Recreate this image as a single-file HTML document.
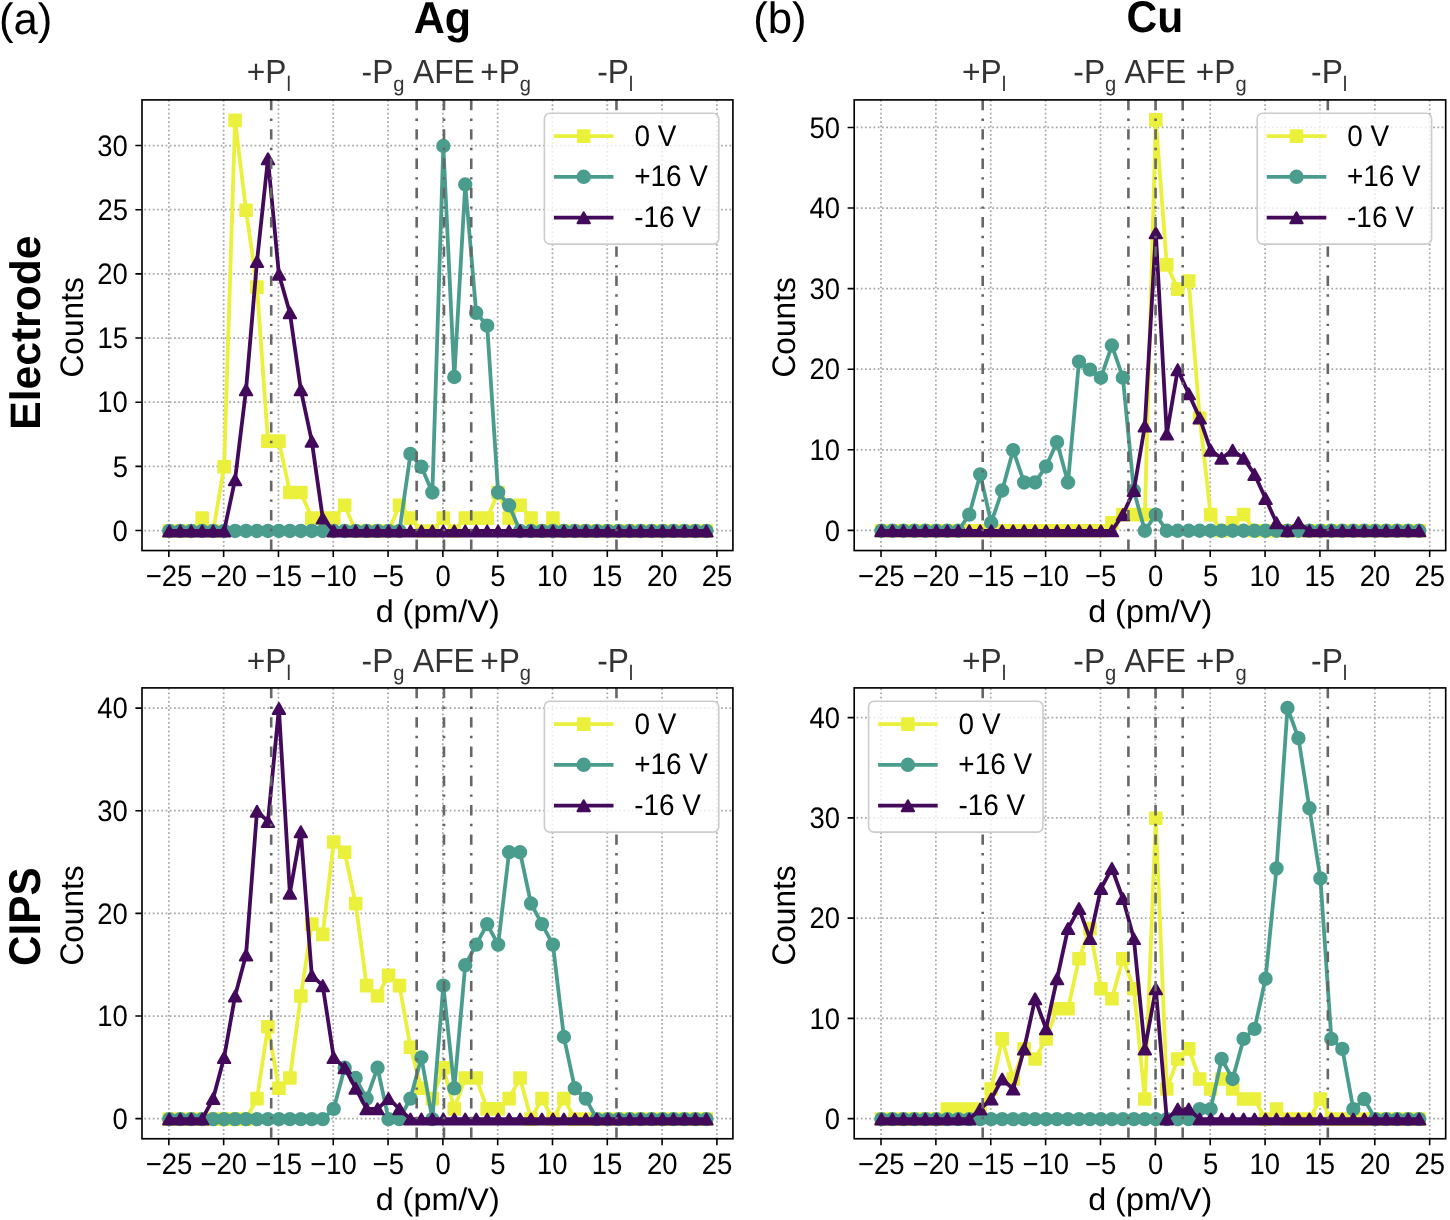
<!DOCTYPE html>
<html><head><meta charset="utf-8"><title>Histogram</title>
<style>html,body{margin:0;padding:0;background:#fff;}body{width:1450px;height:1220px;overflow:hidden;}svg{display:block;will-change:transform;}</style>
</head><body>
<svg width="1450" height="1220" viewBox="0 0 1450 1220" font-family='"Liberation Sans", sans-serif' text-rendering="geometricPrecision">
<rect width="1450" height="1220" fill="#fff"/>
<clipPath id="clipTL"><rect x="142" y="99.9" width="590.9" height="450.65"/></clipPath>
<g stroke="#a8a8a8" stroke-width="1.75" stroke-dasharray="1.75 2.49" fill="none"><path d="M168.85 550.55V99.9M223.66 550.55V99.9M278.46 550.55V99.9M333.26 550.55V99.9M388.07 550.55V99.9M442.88 550.55V99.9M497.68 550.55V99.9M552.49 550.55V99.9M607.29 550.55V99.9M662.1 550.55V99.9M716.9 550.55V99.9" stroke-dashoffset="0.6"/><path d="M142 530.5H732.9M142 466.35H732.9M142 402.19H732.9M142 338.03H732.9M142 273.88H732.9M142 209.73H732.9M142 145.57H732.9" stroke-dashoffset="1.9"/></g>
<g clip-path="url(#clipTL)">
<path d="M169.3 530.95L180.26 530.95L191.22 530.95L202.18 518.12L213.14 530.95L224.1 466.8L235.07 120.36L246.03 210.18L256.99 287.16L267.95 441.13L278.91 441.13L289.87 492.46L300.83 492.46L311.79 518.12L322.75 518.12L333.71 518.12L344.68 505.29L355.64 530.95L366.6 530.95L377.56 530.95L388.52 530.95L399.48 505.29L410.44 518.12L421.4 530.95L432.36 530.95L443.32 518.12L454.29 530.95L465.25 518.12L476.21 518.12L487.17 518.12L498.13 492.46L509.09 518.12L520.05 505.29L531.01 518.12L541.97 530.95L552.94 518.12L563.9 530.95L574.86 530.95L585.82 530.95L596.78 530.95L607.74 530.95L618.7 530.95L629.66 530.95L640.62 530.95L651.58 530.95L662.55 530.95L673.51 530.95L684.47 530.95L695.43 530.95L706.39 530.95" stroke="#ebf03c" stroke-width="3.8" fill="none" stroke-linejoin="round" stroke-linecap="square"/>
<path d="M163.5 525.15h11.6v11.6h-11.6zM174.46 525.15h11.6v11.6h-11.6zM185.42 525.15h11.6v11.6h-11.6zM196.38 512.32h11.6v11.6h-11.6zM207.34 525.15h11.6v11.6h-11.6zM218.3 461h11.6v11.6h-11.6zM229.27 114.56h11.6v11.6h-11.6zM240.23 204.38h11.6v11.6h-11.6zM251.19 281.36h11.6v11.6h-11.6zM262.15 435.33h11.6v11.6h-11.6zM273.11 435.33h11.6v11.6h-11.6zM284.07 486.66h11.6v11.6h-11.6zM295.03 486.66h11.6v11.6h-11.6zM305.99 512.32h11.6v11.6h-11.6zM316.95 512.32h11.6v11.6h-11.6zM327.91 512.32h11.6v11.6h-11.6zM338.88 499.49h11.6v11.6h-11.6zM349.84 525.15h11.6v11.6h-11.6zM360.8 525.15h11.6v11.6h-11.6zM371.76 525.15h11.6v11.6h-11.6zM382.72 525.15h11.6v11.6h-11.6zM393.68 499.49h11.6v11.6h-11.6zM404.64 512.32h11.6v11.6h-11.6zM415.6 525.15h11.6v11.6h-11.6zM426.56 525.15h11.6v11.6h-11.6zM437.52 512.32h11.6v11.6h-11.6zM448.49 525.15h11.6v11.6h-11.6zM459.45 512.32h11.6v11.6h-11.6zM470.41 512.32h11.6v11.6h-11.6zM481.37 512.32h11.6v11.6h-11.6zM492.33 486.66h11.6v11.6h-11.6zM503.29 512.32h11.6v11.6h-11.6zM514.25 499.49h11.6v11.6h-11.6zM525.21 512.32h11.6v11.6h-11.6zM536.17 525.15h11.6v11.6h-11.6zM547.14 512.32h11.6v11.6h-11.6zM558.1 525.15h11.6v11.6h-11.6zM569.06 525.15h11.6v11.6h-11.6zM580.02 525.15h11.6v11.6h-11.6zM590.98 525.15h11.6v11.6h-11.6zM601.94 525.15h11.6v11.6h-11.6zM612.9 525.15h11.6v11.6h-11.6zM623.86 525.15h11.6v11.6h-11.6zM634.82 525.15h11.6v11.6h-11.6zM645.78 525.15h11.6v11.6h-11.6zM656.75 525.15h11.6v11.6h-11.6zM667.71 525.15h11.6v11.6h-11.6zM678.67 525.15h11.6v11.6h-11.6zM689.63 525.15h11.6v11.6h-11.6zM700.59 525.15h11.6v11.6h-11.6z" fill="#ebf03c" stroke="#ebf03c" stroke-width="2.0" stroke-linejoin="round"/>
<path d="M169.3 530.95L180.26 530.95L191.22 530.95L202.18 530.95L213.14 530.95L224.1 530.95L235.07 530.95L246.03 530.95L256.99 530.95L267.95 530.95L278.91 530.95L289.87 530.95L300.83 530.95L311.79 530.95L322.75 530.95L333.71 530.95L344.68 530.95L355.64 530.95L366.6 530.95L377.56 530.95L388.52 530.95L399.48 530.95L410.44 453.96L421.4 466.8L432.36 492.46L443.32 146.02L454.29 376.98L465.25 184.51L476.21 312.82L487.17 325.65L498.13 492.46L509.09 505.29L520.05 530.95L531.01 530.95L541.97 530.95L552.94 530.95L563.9 530.95L574.86 530.95L585.82 530.95L596.78 530.95L607.74 530.95L618.7 530.95L629.66 530.95L640.62 530.95L651.58 530.95L662.55 530.95L673.51 530.95L684.47 530.95L695.43 530.95L706.39 530.95" stroke="#4a9d8d" stroke-width="3.8" fill="none" stroke-linejoin="round" stroke-linecap="square"/>
<path d="M163.1 530.95a6.2 6.2 0 1 0 12.4 0a6.2 6.2 0 1 0 -12.4 0zM174.06 530.95a6.2 6.2 0 1 0 12.4 0a6.2 6.2 0 1 0 -12.4 0zM185.02 530.95a6.2 6.2 0 1 0 12.4 0a6.2 6.2 0 1 0 -12.4 0zM195.98 530.95a6.2 6.2 0 1 0 12.4 0a6.2 6.2 0 1 0 -12.4 0zM206.94 530.95a6.2 6.2 0 1 0 12.4 0a6.2 6.2 0 1 0 -12.4 0zM217.91 530.95a6.2 6.2 0 1 0 12.4 0a6.2 6.2 0 1 0 -12.4 0zM228.87 530.95a6.2 6.2 0 1 0 12.4 0a6.2 6.2 0 1 0 -12.4 0zM239.83 530.95a6.2 6.2 0 1 0 12.4 0a6.2 6.2 0 1 0 -12.4 0zM250.79 530.95a6.2 6.2 0 1 0 12.4 0a6.2 6.2 0 1 0 -12.4 0zM261.75 530.95a6.2 6.2 0 1 0 12.4 0a6.2 6.2 0 1 0 -12.4 0zM272.71 530.95a6.2 6.2 0 1 0 12.4 0a6.2 6.2 0 1 0 -12.4 0zM283.67 530.95a6.2 6.2 0 1 0 12.4 0a6.2 6.2 0 1 0 -12.4 0zM294.63 530.95a6.2 6.2 0 1 0 12.4 0a6.2 6.2 0 1 0 -12.4 0zM305.59 530.95a6.2 6.2 0 1 0 12.4 0a6.2 6.2 0 1 0 -12.4 0zM316.55 530.95a6.2 6.2 0 1 0 12.4 0a6.2 6.2 0 1 0 -12.4 0zM327.51 530.95a6.2 6.2 0 1 0 12.4 0a6.2 6.2 0 1 0 -12.4 0zM338.48 530.95a6.2 6.2 0 1 0 12.4 0a6.2 6.2 0 1 0 -12.4 0zM349.44 530.95a6.2 6.2 0 1 0 12.4 0a6.2 6.2 0 1 0 -12.4 0zM360.4 530.95a6.2 6.2 0 1 0 12.4 0a6.2 6.2 0 1 0 -12.4 0zM371.36 530.95a6.2 6.2 0 1 0 12.4 0a6.2 6.2 0 1 0 -12.4 0zM382.32 530.95a6.2 6.2 0 1 0 12.4 0a6.2 6.2 0 1 0 -12.4 0zM393.28 530.95a6.2 6.2 0 1 0 12.4 0a6.2 6.2 0 1 0 -12.4 0zM404.24 453.96a6.2 6.2 0 1 0 12.4 0a6.2 6.2 0 1 0 -12.4 0zM415.2 466.8a6.2 6.2 0 1 0 12.4 0a6.2 6.2 0 1 0 -12.4 0zM426.16 492.46a6.2 6.2 0 1 0 12.4 0a6.2 6.2 0 1 0 -12.4 0zM437.12 146.02a6.2 6.2 0 1 0 12.4 0a6.2 6.2 0 1 0 -12.4 0zM448.09 376.98a6.2 6.2 0 1 0 12.4 0a6.2 6.2 0 1 0 -12.4 0zM459.05 184.51a6.2 6.2 0 1 0 12.4 0a6.2 6.2 0 1 0 -12.4 0zM470.01 312.82a6.2 6.2 0 1 0 12.4 0a6.2 6.2 0 1 0 -12.4 0zM480.97 325.65a6.2 6.2 0 1 0 12.4 0a6.2 6.2 0 1 0 -12.4 0zM491.93 492.46a6.2 6.2 0 1 0 12.4 0a6.2 6.2 0 1 0 -12.4 0zM502.89 505.29a6.2 6.2 0 1 0 12.4 0a6.2 6.2 0 1 0 -12.4 0zM513.85 530.95a6.2 6.2 0 1 0 12.4 0a6.2 6.2 0 1 0 -12.4 0zM524.81 530.95a6.2 6.2 0 1 0 12.4 0a6.2 6.2 0 1 0 -12.4 0zM535.77 530.95a6.2 6.2 0 1 0 12.4 0a6.2 6.2 0 1 0 -12.4 0zM546.74 530.95a6.2 6.2 0 1 0 12.4 0a6.2 6.2 0 1 0 -12.4 0zM557.7 530.95a6.2 6.2 0 1 0 12.4 0a6.2 6.2 0 1 0 -12.4 0zM568.66 530.95a6.2 6.2 0 1 0 12.4 0a6.2 6.2 0 1 0 -12.4 0zM579.62 530.95a6.2 6.2 0 1 0 12.4 0a6.2 6.2 0 1 0 -12.4 0zM590.58 530.95a6.2 6.2 0 1 0 12.4 0a6.2 6.2 0 1 0 -12.4 0zM601.54 530.95a6.2 6.2 0 1 0 12.4 0a6.2 6.2 0 1 0 -12.4 0zM612.5 530.95a6.2 6.2 0 1 0 12.4 0a6.2 6.2 0 1 0 -12.4 0zM623.46 530.95a6.2 6.2 0 1 0 12.4 0a6.2 6.2 0 1 0 -12.4 0zM634.42 530.95a6.2 6.2 0 1 0 12.4 0a6.2 6.2 0 1 0 -12.4 0zM645.38 530.95a6.2 6.2 0 1 0 12.4 0a6.2 6.2 0 1 0 -12.4 0zM656.35 530.95a6.2 6.2 0 1 0 12.4 0a6.2 6.2 0 1 0 -12.4 0zM667.31 530.95a6.2 6.2 0 1 0 12.4 0a6.2 6.2 0 1 0 -12.4 0zM678.27 530.95a6.2 6.2 0 1 0 12.4 0a6.2 6.2 0 1 0 -12.4 0zM689.23 530.95a6.2 6.2 0 1 0 12.4 0a6.2 6.2 0 1 0 -12.4 0zM700.19 530.95a6.2 6.2 0 1 0 12.4 0a6.2 6.2 0 1 0 -12.4 0z" fill="#4a9d8d" stroke="#4a9d8d" stroke-width="2.0" stroke-linejoin="round"/>
<path d="M169.3 530.95L180.26 530.95L191.22 530.95L202.18 530.95L213.14 530.95L224.1 530.95L235.07 479.63L246.03 389.81L256.99 261.5L267.95 158.85L278.91 274.33L289.87 312.82L300.83 389.81L311.79 441.13L322.75 518.12L333.71 530.95L344.68 530.95L355.64 530.95L366.6 530.95L377.56 530.95L388.52 530.95L399.48 530.95L410.44 530.95L421.4 530.95L432.36 530.95L443.32 530.95L454.29 530.95L465.25 530.95L476.21 530.95L487.17 530.95L498.13 530.95L509.09 530.95L520.05 530.95L531.01 530.95L541.97 530.95L552.94 530.95L563.9 530.95L574.86 530.95L585.82 530.95L596.78 530.95L607.74 530.95L618.7 530.95L629.66 530.95L640.62 530.95L651.58 530.95L662.55 530.95L673.51 530.95L684.47 530.95L695.43 530.95L706.39 530.95" stroke="#430a5c" stroke-width="3.8" fill="none" stroke-linejoin="round" stroke-linecap="square"/>
<path d="M169.3 525.45L175.5 536.45L163.1 536.45zM180.26 525.45L186.46 536.45L174.06 536.45zM191.22 525.45L197.42 536.45L185.02 536.45zM202.18 525.45L208.38 536.45L195.98 536.45zM213.14 525.45L219.34 536.45L206.94 536.45zM224.1 525.45L230.3 536.45L217.91 536.45zM235.07 474.13L241.27 485.13L228.87 485.13zM246.03 384.31L252.23 395.31L239.83 395.31zM256.99 256L263.19 267L250.79 267zM267.95 153.35L274.15 164.35L261.75 164.35zM278.91 268.83L285.11 279.83L272.71 279.83zM289.87 307.32L296.07 318.32L283.67 318.32zM300.83 384.31L307.03 395.31L294.63 395.31zM311.79 435.63L317.99 446.63L305.59 446.63zM322.75 512.62L328.95 523.62L316.55 523.62zM333.71 525.45L339.91 536.45L327.51 536.45zM344.68 525.45L350.88 536.45L338.48 536.45zM355.64 525.45L361.84 536.45L349.44 536.45zM366.6 525.45L372.8 536.45L360.4 536.45zM377.56 525.45L383.76 536.45L371.36 536.45zM388.52 525.45L394.72 536.45L382.32 536.45zM399.48 525.45L405.68 536.45L393.28 536.45zM410.44 525.45L416.64 536.45L404.24 536.45zM421.4 525.45L427.6 536.45L415.2 536.45zM432.36 525.45L438.56 536.45L426.16 536.45zM443.32 525.45L449.52 536.45L437.12 536.45zM454.29 525.45L460.49 536.45L448.09 536.45zM465.25 525.45L471.45 536.45L459.05 536.45zM476.21 525.45L482.41 536.45L470.01 536.45zM487.17 525.45L493.37 536.45L480.97 536.45zM498.13 525.45L504.33 536.45L491.93 536.45zM509.09 525.45L515.29 536.45L502.89 536.45zM520.05 525.45L526.25 536.45L513.85 536.45zM531.01 525.45L537.21 536.45L524.81 536.45zM541.97 525.45L548.17 536.45L535.77 536.45zM552.94 525.45L559.14 536.45L546.74 536.45zM563.9 525.45L570.1 536.45L557.7 536.45zM574.86 525.45L581.06 536.45L568.66 536.45zM585.82 525.45L592.02 536.45L579.62 536.45zM596.78 525.45L602.98 536.45L590.58 536.45zM607.74 525.45L613.94 536.45L601.54 536.45zM618.7 525.45L624.9 536.45L612.5 536.45zM629.66 525.45L635.86 536.45L623.46 536.45zM640.62 525.45L646.82 536.45L634.42 536.45zM651.58 525.45L657.78 536.45L645.38 536.45zM662.55 525.45L668.75 536.45L656.35 536.45zM673.51 525.45L679.71 536.45L667.31 536.45zM684.47 525.45L690.67 536.45L678.27 536.45zM695.43 525.45L701.63 536.45L689.23 536.45zM706.39 525.45L712.59 536.45L700.19 536.45z" fill="#430a5c" stroke="#430a5c" stroke-width="2.0" stroke-linejoin="round"/>
</g>
<path d="M271.2 99.9V550.55M416.67 99.9V550.55M443.98 99.9V550.55M471.23 99.9V550.55M616.46 99.9V550.55" stroke="#666666" stroke-width="2.6" stroke-dasharray="10.4 8.25 2.4 8.25" fill="none" clip-path="url(#clipTL)"/>
<rect x="142" y="99.9" width="590.9" height="450.65" fill="none" stroke="#000" stroke-width="1.65"/>
<path d="M168.85 550.55v6.5M223.66 550.55v6.5M278.46 550.55v6.5M333.26 550.55v6.5M388.07 550.55v6.5M442.88 550.55v6.5M497.68 550.55v6.5M552.49 550.55v6.5M607.29 550.55v6.5M662.1 550.55v6.5M716.9 550.55v6.5M142 530.5h-6.6M142 466.35h-6.6M142 402.19h-6.6M142 338.03h-6.6M142 273.88h-6.6M142 209.73h-6.6M142 145.57h-6.6" stroke="#000" stroke-width="1.6"/>
<text transform="translate(145.76 585.65) scale(0.925 1)" font-size="29.7">−25</text>
<text transform="translate(200.52 585.65) scale(0.925 1)" font-size="29.7">−20</text>
<text transform="translate(255.37 585.65) scale(0.925 1)" font-size="29.7">−15</text>
<text transform="translate(310.13 585.65) scale(0.925 1)" font-size="29.7">−10</text>
<text transform="translate(372.61 585.65) scale(0.925 1)" font-size="29.7">−5</text>
<text transform="translate(435.54 585.65) scale(0.925 1)" font-size="29.7">0</text>
<text transform="translate(490.37 585.65) scale(0.925 1)" font-size="29.7">5</text>
<text transform="translate(537 585.65) scale(0.925 1)" font-size="29.7">10</text>
<text transform="translate(591.85 585.65) scale(0.925 1)" font-size="29.7">15</text>
<text transform="translate(646.97 585.65) scale(0.925 1)" font-size="29.7">20</text>
<text transform="translate(701.82 585.65) scale(0.925 1)" font-size="29.7">25</text>
<text transform="translate(112.6 540.75) scale(0.925 1)" font-size="29.7">0</text>
<text transform="translate(112.68 476.6) scale(0.925 1)" font-size="29.7">5</text>
<text transform="translate(97.32 412.44) scale(0.925 1)" font-size="29.7">10</text>
<text transform="translate(97.4 348.28) scale(0.925 1)" font-size="29.7">15</text>
<text transform="translate(97.32 284.13) scale(0.925 1)" font-size="29.7">20</text>
<text transform="translate(97.4 219.98) scale(0.925 1)" font-size="29.7">25</text>
<text transform="translate(97.32 155.82) scale(0.925 1)" font-size="29.7">30</text>
<text transform="translate(375.64 622.05) scale(1.029 1)" font-size="31.45">d (pm/V)</text>
<text transform="translate(82.67 377.49) rotate(-90) scale(0.97 1)" font-size="32.63">Counts</text>
<text transform="translate(246.74 83.1) scale(0.95 1)" font-size="33.4" fill="#333">+P<tspan font-size="21.2" dy="7.7">l</tspan></text>
<text transform="translate(361.61 83.1) scale(0.95 1)" font-size="33.4" fill="#333">-P<tspan font-size="21.2" dy="7.7">g</tspan></text>
<text transform="translate(413.02 83.1) scale(0.95 1)" font-size="33.4" fill="#333">AFE</text>
<text transform="translate(480.15 83.1) scale(0.95 1)" font-size="33.4" fill="#333">+P<tspan font-size="21.2" dy="7.7">g</tspan></text>
<text transform="translate(597.15 83.1) scale(0.95 1)" font-size="33.4" fill="#333">-P<tspan font-size="21.2" dy="7.7">l</tspan></text>
<clipPath id="lclipTL"><rect x="544.4" y="113.2" width="174.4" height="130.9" rx="5.5"/></clipPath>
<rect x="544.4" y="113.2" width="174.4" height="130.9" rx="5.5" fill="#fff"/>
<g stroke="#ececec" stroke-width="1.75" stroke-dasharray="1.75 2.49" fill="none" clip-path="url(#lclipTL)"><path d="M168.85 550.55V99.9M223.66 550.55V99.9M278.46 550.55V99.9M333.26 550.55V99.9M388.07 550.55V99.9M442.88 550.55V99.9M497.68 550.55V99.9M552.49 550.55V99.9M607.29 550.55V99.9M662.1 550.55V99.9M716.9 550.55V99.9" stroke-dashoffset="0.6"/><path d="M142 530.5H732.9M142 466.35H732.9M142 402.19H732.9M142 338.03H732.9M142 273.88H732.9M142 209.73H732.9M142 145.57H732.9" stroke-dashoffset="1.9"/></g>
<rect x="544.4" y="113.2" width="174.4" height="130.9" rx="5.5" fill="none" stroke="#cccccc" stroke-width="1.6"/>
<path d="M553.9 136.1H613.5" stroke="#ebf03c" stroke-width="3.8" stroke-linecap="butt"/>
<rect x="577.9" y="130.3" width="11.6" height="11.6" fill="#ebf03c" stroke="#ebf03c" stroke-width="2.0" stroke-linejoin="round"/>
<text transform="translate(634.41 145.5) scale(0.94 1)" font-size="29.7">0 V</text>
<path d="M553.9 176.8H613.5" stroke="#4a9d8d" stroke-width="3.8" stroke-linecap="butt"/>
<circle cx="583.7" cy="176.8" r="6.2" fill="#4a9d8d" stroke="#4a9d8d" stroke-width="2.0"/>
<text transform="translate(634.13 186.2) scale(0.94 1)" font-size="29.7">+16 V</text>
<path d="M553.9 217.7H613.5" stroke="#430a5c" stroke-width="3.8" stroke-linecap="butt"/>
<path d="M583.7 212.2L589.9 223.2L577.5 223.2z" fill="#430a5c" stroke="#430a5c" stroke-width="2.0" stroke-linejoin="round"/>
<text transform="translate(634.27 227.1) scale(0.94 1)" font-size="29.7">-16 V</text>
<clipPath id="clipTR"><rect x="854.2" y="99.9" width="591.5" height="450.65"/></clipPath>
<g stroke="#a8a8a8" stroke-width="1.75" stroke-dasharray="1.75 2.49" fill="none"><path d="M881.02 550.55V99.9M935.88 550.55V99.9M990.75 550.55V99.9M1045.62 550.55V99.9M1100.48 550.55V99.9M1155.35 550.55V99.9M1210.21 550.55V99.9M1265.08 550.55V99.9M1319.94 550.55V99.9M1374.81 550.55V99.9M1429.67 550.55V99.9" stroke-dashoffset="0.6"/><path d="M854.2 530.33H1445.7M854.2 449.76H1445.7M854.2 369.19H1445.7M854.2 288.63H1445.7M854.2 208.06H1445.7M854.2 127.49H1445.7" stroke-dashoffset="1.9"/></g>
<g clip-path="url(#clipTR)">
<path d="M881.47 530.78L892.44 530.78L903.42 530.78L914.39 530.78L925.36 530.78L936.34 530.78L947.31 530.78L958.28 530.78L969.25 530.78L980.23 530.78L991.2 530.78L1002.17 530.78L1013.15 530.78L1024.12 530.78L1035.09 530.78L1046.07 530.78L1057.04 530.78L1068.01 530.78L1078.98 530.78L1089.96 530.78L1100.93 530.78L1111.9 522.72L1122.88 514.67L1133.85 514.67L1144.82 514.67L1155.8 119.88L1166.77 264.91L1177.74 289.08L1188.71 281.02L1199.69 417.98L1210.66 514.67L1221.63 530.78L1232.61 522.72L1243.58 514.67L1254.55 530.78L1265.53 530.78L1276.5 530.78L1287.47 530.78L1298.44 530.78L1309.42 530.78L1320.39 530.78L1331.36 530.78L1342.34 530.78L1353.31 530.78L1364.28 530.78L1375.26 530.78L1386.23 530.78L1397.2 530.78L1408.17 530.78L1419.15 530.78" stroke="#ebf03c" stroke-width="3.8" fill="none" stroke-linejoin="round" stroke-linecap="square"/>
<path d="M875.67 524.98h11.6v11.6h-11.6zM886.64 524.98h11.6v11.6h-11.6zM897.62 524.98h11.6v11.6h-11.6zM908.59 524.98h11.6v11.6h-11.6zM919.56 524.98h11.6v11.6h-11.6zM930.54 524.98h11.6v11.6h-11.6zM941.51 524.98h11.6v11.6h-11.6zM952.48 524.98h11.6v11.6h-11.6zM963.45 524.98h11.6v11.6h-11.6zM974.43 524.98h11.6v11.6h-11.6zM985.4 524.98h11.6v11.6h-11.6zM996.37 524.98h11.6v11.6h-11.6zM1007.35 524.98h11.6v11.6h-11.6zM1018.32 524.98h11.6v11.6h-11.6zM1029.29 524.98h11.6v11.6h-11.6zM1040.27 524.98h11.6v11.6h-11.6zM1051.24 524.98h11.6v11.6h-11.6zM1062.21 524.98h11.6v11.6h-11.6zM1073.18 524.98h11.6v11.6h-11.6zM1084.16 524.98h11.6v11.6h-11.6zM1095.13 524.98h11.6v11.6h-11.6zM1106.1 516.92h11.6v11.6h-11.6zM1117.08 508.87h11.6v11.6h-11.6zM1128.05 508.87h11.6v11.6h-11.6zM1139.02 508.87h11.6v11.6h-11.6zM1150 114.08h11.6v11.6h-11.6zM1160.97 259.11h11.6v11.6h-11.6zM1171.94 283.28h11.6v11.6h-11.6zM1182.91 275.22h11.6v11.6h-11.6zM1193.89 412.18h11.6v11.6h-11.6zM1204.86 508.87h11.6v11.6h-11.6zM1215.83 524.98h11.6v11.6h-11.6zM1226.81 516.92h11.6v11.6h-11.6zM1237.78 508.87h11.6v11.6h-11.6zM1248.75 524.98h11.6v11.6h-11.6zM1259.73 524.98h11.6v11.6h-11.6zM1270.7 524.98h11.6v11.6h-11.6zM1281.67 524.98h11.6v11.6h-11.6zM1292.64 524.98h11.6v11.6h-11.6zM1303.62 524.98h11.6v11.6h-11.6zM1314.59 524.98h11.6v11.6h-11.6zM1325.56 524.98h11.6v11.6h-11.6zM1336.54 524.98h11.6v11.6h-11.6zM1347.51 524.98h11.6v11.6h-11.6zM1358.48 524.98h11.6v11.6h-11.6zM1369.46 524.98h11.6v11.6h-11.6zM1380.43 524.98h11.6v11.6h-11.6zM1391.4 524.98h11.6v11.6h-11.6zM1402.37 524.98h11.6v11.6h-11.6zM1413.35 524.98h11.6v11.6h-11.6z" fill="#ebf03c" stroke="#ebf03c" stroke-width="2.0" stroke-linejoin="round"/>
<path d="M881.47 530.78L892.44 530.78L903.42 530.78L914.39 530.78L925.36 530.78L936.34 530.78L947.31 530.78L958.28 530.78L969.25 514.67L980.23 474.38L991.2 522.72L1002.17 490.5L1013.15 450.21L1024.12 482.44L1035.09 482.44L1046.07 466.33L1057.04 442.16L1068.01 482.44L1078.98 361.59L1089.96 369.64L1100.93 377.7L1111.9 345.47L1122.88 377.7L1133.85 490.5L1144.82 530.78L1155.8 514.67L1166.77 530.78L1177.74 530.78L1188.71 530.78L1199.69 530.78L1210.66 530.78L1221.63 530.78L1232.61 530.78L1243.58 530.78L1254.55 530.78L1265.53 530.78L1276.5 530.78L1287.47 530.78L1298.44 530.78L1309.42 530.78L1320.39 530.78L1331.36 530.78L1342.34 530.78L1353.31 530.78L1364.28 530.78L1375.26 530.78L1386.23 530.78L1397.2 530.78L1408.17 530.78L1419.15 530.78" stroke="#4a9d8d" stroke-width="3.8" fill="none" stroke-linejoin="round" stroke-linecap="square"/>
<path d="M875.27 530.78a6.2 6.2 0 1 0 12.4 0a6.2 6.2 0 1 0 -12.4 0zM886.24 530.78a6.2 6.2 0 1 0 12.4 0a6.2 6.2 0 1 0 -12.4 0zM897.22 530.78a6.2 6.2 0 1 0 12.4 0a6.2 6.2 0 1 0 -12.4 0zM908.19 530.78a6.2 6.2 0 1 0 12.4 0a6.2 6.2 0 1 0 -12.4 0zM919.16 530.78a6.2 6.2 0 1 0 12.4 0a6.2 6.2 0 1 0 -12.4 0zM930.13 530.78a6.2 6.2 0 1 0 12.4 0a6.2 6.2 0 1 0 -12.4 0zM941.11 530.78a6.2 6.2 0 1 0 12.4 0a6.2 6.2 0 1 0 -12.4 0zM952.08 530.78a6.2 6.2 0 1 0 12.4 0a6.2 6.2 0 1 0 -12.4 0zM963.05 514.67a6.2 6.2 0 1 0 12.4 0a6.2 6.2 0 1 0 -12.4 0zM974.03 474.38a6.2 6.2 0 1 0 12.4 0a6.2 6.2 0 1 0 -12.4 0zM985 522.72a6.2 6.2 0 1 0 12.4 0a6.2 6.2 0 1 0 -12.4 0zM995.97 490.5a6.2 6.2 0 1 0 12.4 0a6.2 6.2 0 1 0 -12.4 0zM1006.95 450.21a6.2 6.2 0 1 0 12.4 0a6.2 6.2 0 1 0 -12.4 0zM1017.92 482.44a6.2 6.2 0 1 0 12.4 0a6.2 6.2 0 1 0 -12.4 0zM1028.89 482.44a6.2 6.2 0 1 0 12.4 0a6.2 6.2 0 1 0 -12.4 0zM1039.87 466.33a6.2 6.2 0 1 0 12.4 0a6.2 6.2 0 1 0 -12.4 0zM1050.84 442.16a6.2 6.2 0 1 0 12.4 0a6.2 6.2 0 1 0 -12.4 0zM1061.81 482.44a6.2 6.2 0 1 0 12.4 0a6.2 6.2 0 1 0 -12.4 0zM1072.78 361.59a6.2 6.2 0 1 0 12.4 0a6.2 6.2 0 1 0 -12.4 0zM1083.76 369.64a6.2 6.2 0 1 0 12.4 0a6.2 6.2 0 1 0 -12.4 0zM1094.73 377.7a6.2 6.2 0 1 0 12.4 0a6.2 6.2 0 1 0 -12.4 0zM1105.7 345.47a6.2 6.2 0 1 0 12.4 0a6.2 6.2 0 1 0 -12.4 0zM1116.68 377.7a6.2 6.2 0 1 0 12.4 0a6.2 6.2 0 1 0 -12.4 0zM1127.65 490.5a6.2 6.2 0 1 0 12.4 0a6.2 6.2 0 1 0 -12.4 0zM1138.62 530.78a6.2 6.2 0 1 0 12.4 0a6.2 6.2 0 1 0 -12.4 0zM1149.6 514.67a6.2 6.2 0 1 0 12.4 0a6.2 6.2 0 1 0 -12.4 0zM1160.57 530.78a6.2 6.2 0 1 0 12.4 0a6.2 6.2 0 1 0 -12.4 0zM1171.54 530.78a6.2 6.2 0 1 0 12.4 0a6.2 6.2 0 1 0 -12.4 0zM1182.51 530.78a6.2 6.2 0 1 0 12.4 0a6.2 6.2 0 1 0 -12.4 0zM1193.49 530.78a6.2 6.2 0 1 0 12.4 0a6.2 6.2 0 1 0 -12.4 0zM1204.46 530.78a6.2 6.2 0 1 0 12.4 0a6.2 6.2 0 1 0 -12.4 0zM1215.43 530.78a6.2 6.2 0 1 0 12.4 0a6.2 6.2 0 1 0 -12.4 0zM1226.41 530.78a6.2 6.2 0 1 0 12.4 0a6.2 6.2 0 1 0 -12.4 0zM1237.38 530.78a6.2 6.2 0 1 0 12.4 0a6.2 6.2 0 1 0 -12.4 0zM1248.35 530.78a6.2 6.2 0 1 0 12.4 0a6.2 6.2 0 1 0 -12.4 0zM1259.33 530.78a6.2 6.2 0 1 0 12.4 0a6.2 6.2 0 1 0 -12.4 0zM1270.3 530.78a6.2 6.2 0 1 0 12.4 0a6.2 6.2 0 1 0 -12.4 0zM1281.27 530.78a6.2 6.2 0 1 0 12.4 0a6.2 6.2 0 1 0 -12.4 0zM1292.24 530.78a6.2 6.2 0 1 0 12.4 0a6.2 6.2 0 1 0 -12.4 0zM1303.22 530.78a6.2 6.2 0 1 0 12.4 0a6.2 6.2 0 1 0 -12.4 0zM1314.19 530.78a6.2 6.2 0 1 0 12.4 0a6.2 6.2 0 1 0 -12.4 0zM1325.16 530.78a6.2 6.2 0 1 0 12.4 0a6.2 6.2 0 1 0 -12.4 0zM1336.14 530.78a6.2 6.2 0 1 0 12.4 0a6.2 6.2 0 1 0 -12.4 0zM1347.11 530.78a6.2 6.2 0 1 0 12.4 0a6.2 6.2 0 1 0 -12.4 0zM1358.08 530.78a6.2 6.2 0 1 0 12.4 0a6.2 6.2 0 1 0 -12.4 0zM1369.06 530.78a6.2 6.2 0 1 0 12.4 0a6.2 6.2 0 1 0 -12.4 0zM1380.03 530.78a6.2 6.2 0 1 0 12.4 0a6.2 6.2 0 1 0 -12.4 0zM1391 530.78a6.2 6.2 0 1 0 12.4 0a6.2 6.2 0 1 0 -12.4 0zM1401.97 530.78a6.2 6.2 0 1 0 12.4 0a6.2 6.2 0 1 0 -12.4 0zM1412.95 530.78a6.2 6.2 0 1 0 12.4 0a6.2 6.2 0 1 0 -12.4 0z" fill="#4a9d8d" stroke="#4a9d8d" stroke-width="2.0" stroke-linejoin="round"/>
<path d="M881.47 530.78L892.44 530.78L903.42 530.78L914.39 530.78L925.36 530.78L936.34 530.78L947.31 530.78L958.28 530.78L969.25 530.78L980.23 530.78L991.2 530.78L1002.17 530.78L1013.15 530.78L1024.12 530.78L1035.09 530.78L1046.07 530.78L1057.04 530.78L1068.01 530.78L1078.98 530.78L1089.96 530.78L1100.93 530.78L1111.9 530.78L1122.88 514.67L1133.85 490.5L1144.82 426.04L1155.8 232.68L1166.77 434.1L1177.74 369.64L1188.71 393.81L1199.69 417.98L1210.66 450.21L1221.63 458.27L1232.61 450.21L1243.58 458.27L1254.55 474.38L1265.53 498.55L1276.5 522.72L1287.47 530.78L1298.44 522.72L1309.42 530.78L1320.39 530.78L1331.36 530.78L1342.34 530.78L1353.31 530.78L1364.28 530.78L1375.26 530.78L1386.23 530.78L1397.2 530.78L1408.17 530.78L1419.15 530.78" stroke="#430a5c" stroke-width="3.8" fill="none" stroke-linejoin="round" stroke-linecap="square"/>
<path d="M881.47 525.28L887.67 536.28L875.27 536.28zM892.44 525.28L898.64 536.28L886.24 536.28zM903.42 525.28L909.62 536.28L897.22 536.28zM914.39 525.28L920.59 536.28L908.19 536.28zM925.36 525.28L931.56 536.28L919.16 536.28zM936.34 525.28L942.54 536.28L930.13 536.28zM947.31 525.28L953.51 536.28L941.11 536.28zM958.28 525.28L964.48 536.28L952.08 536.28zM969.25 525.28L975.45 536.28L963.05 536.28zM980.23 525.28L986.43 536.28L974.03 536.28zM991.2 525.28L997.4 536.28L985 536.28zM1002.17 525.28L1008.37 536.28L995.97 536.28zM1013.15 525.28L1019.35 536.28L1006.95 536.28zM1024.12 525.28L1030.32 536.28L1017.92 536.28zM1035.09 525.28L1041.29 536.28L1028.89 536.28zM1046.07 525.28L1052.27 536.28L1039.87 536.28zM1057.04 525.28L1063.24 536.28L1050.84 536.28zM1068.01 525.28L1074.21 536.28L1061.81 536.28zM1078.98 525.28L1085.18 536.28L1072.78 536.28zM1089.96 525.28L1096.16 536.28L1083.76 536.28zM1100.93 525.28L1107.13 536.28L1094.73 536.28zM1111.9 525.28L1118.1 536.28L1105.7 536.28zM1122.88 509.17L1129.08 520.17L1116.68 520.17zM1133.85 485L1140.05 496L1127.65 496zM1144.82 420.54L1151.02 431.54L1138.62 431.54zM1155.8 227.18L1162 238.18L1149.6 238.18zM1166.77 428.6L1172.97 439.6L1160.57 439.6zM1177.74 364.14L1183.94 375.14L1171.54 375.14zM1188.71 388.31L1194.91 399.31L1182.51 399.31zM1199.69 412.48L1205.89 423.48L1193.49 423.48zM1210.66 444.71L1216.86 455.71L1204.46 455.71zM1221.63 452.77L1227.83 463.77L1215.43 463.77zM1232.61 444.71L1238.81 455.71L1226.41 455.71zM1243.58 452.77L1249.78 463.77L1237.38 463.77zM1254.55 468.88L1260.75 479.88L1248.35 479.88zM1265.53 493.05L1271.73 504.05L1259.33 504.05zM1276.5 517.22L1282.7 528.22L1270.3 528.22zM1287.47 525.28L1293.67 536.28L1281.27 536.28zM1298.44 517.22L1304.64 528.22L1292.24 528.22zM1309.42 525.28L1315.62 536.28L1303.22 536.28zM1320.39 525.28L1326.59 536.28L1314.19 536.28zM1331.36 525.28L1337.56 536.28L1325.16 536.28zM1342.34 525.28L1348.54 536.28L1336.14 536.28zM1353.31 525.28L1359.51 536.28L1347.11 536.28zM1364.28 525.28L1370.48 536.28L1358.08 536.28zM1375.26 525.28L1381.46 536.28L1369.06 536.28zM1386.23 525.28L1392.43 536.28L1380.03 536.28zM1397.2 525.28L1403.4 536.28L1391 536.28zM1408.17 525.28L1414.37 536.28L1401.97 536.28zM1419.15 525.28L1425.35 536.28L1412.95 536.28z" fill="#430a5c" stroke="#430a5c" stroke-width="2.0" stroke-linejoin="round"/>
</g>
<path d="M982.69 99.9V550.55M1128.41 99.9V550.55M1155.58 99.9V550.55M1182.68 99.9V550.55M1327.82 99.9V550.55" stroke="#666666" stroke-width="2.6" stroke-dasharray="10.4 8.25 2.4 8.25" fill="none" clip-path="url(#clipTR)"/>
<rect x="854.2" y="99.9" width="591.5" height="450.65" fill="none" stroke="#000" stroke-width="1.65"/>
<path d="M881.02 550.55v6.5M935.88 550.55v6.5M990.75 550.55v6.5M1045.62 550.55v6.5M1100.48 550.55v6.5M1155.35 550.55v6.5M1210.21 550.55v6.5M1265.08 550.55v6.5M1319.94 550.55v6.5M1374.81 550.55v6.5M1429.67 550.55v6.5M854.2 530.33h-6.6M854.2 449.76h-6.6M854.2 369.19h-6.6M854.2 288.63h-6.6M854.2 208.06h-6.6M854.2 127.49h-6.6" stroke="#000" stroke-width="1.6"/>
<text transform="translate(857.93 585.65) scale(0.925 1)" font-size="29.7">−25</text>
<text transform="translate(912.75 585.65) scale(0.925 1)" font-size="29.7">−20</text>
<text transform="translate(967.66 585.65) scale(0.925 1)" font-size="29.7">−15</text>
<text transform="translate(1022.48 585.65) scale(0.925 1)" font-size="29.7">−10</text>
<text transform="translate(1085.02 585.65) scale(0.925 1)" font-size="29.7">−5</text>
<text transform="translate(1148.01 585.65) scale(0.925 1)" font-size="29.7">0</text>
<text transform="translate(1202.9 585.65) scale(0.925 1)" font-size="29.7">5</text>
<text transform="translate(1249.59 585.65) scale(0.925 1)" font-size="29.7">10</text>
<text transform="translate(1304.5 585.65) scale(0.925 1)" font-size="29.7">15</text>
<text transform="translate(1359.68 585.65) scale(0.925 1)" font-size="29.7">20</text>
<text transform="translate(1414.59 585.65) scale(0.925 1)" font-size="29.7">25</text>
<text transform="translate(824.8 540.58) scale(0.925 1)" font-size="29.7">0</text>
<text transform="translate(809.52 460.01) scale(0.925 1)" font-size="29.7">10</text>
<text transform="translate(809.52 379.44) scale(0.925 1)" font-size="29.7">20</text>
<text transform="translate(809.52 298.88) scale(0.925 1)" font-size="29.7">30</text>
<text transform="translate(809.52 218.31) scale(0.925 1)" font-size="29.7">40</text>
<text transform="translate(809.52 137.74) scale(0.925 1)" font-size="29.7">50</text>
<text transform="translate(1088.14 622.05) scale(1.029 1)" font-size="31.45">d (pm/V)</text>
<text transform="translate(794.87 377.49) rotate(-90) scale(0.97 1)" font-size="32.63">Counts</text>
<text transform="translate(962.06 83.1) scale(0.95 1)" font-size="33.4" fill="#333">+P<tspan font-size="21.2" dy="7.7">l</tspan></text>
<text transform="translate(1073.33 83.1) scale(0.95 1)" font-size="33.4" fill="#333">-P<tspan font-size="21.2" dy="7.7">g</tspan></text>
<text transform="translate(1124.59 83.1) scale(0.95 1)" font-size="33.4" fill="#333">AFE</text>
<text transform="translate(1195.77 83.1) scale(0.95 1)" font-size="33.4" fill="#333">+P<tspan font-size="21.2" dy="7.7">g</tspan></text>
<text transform="translate(1311.12 83.1) scale(0.95 1)" font-size="33.4" fill="#333">-P<tspan font-size="21.2" dy="7.7">l</tspan></text>
<clipPath id="lclipTR"><rect x="1257.2" y="113.2" width="174.4" height="130.9" rx="5.5"/></clipPath>
<rect x="1257.2" y="113.2" width="174.4" height="130.9" rx="5.5" fill="#fff"/>
<g stroke="#ececec" stroke-width="1.75" stroke-dasharray="1.75 2.49" fill="none" clip-path="url(#lclipTR)"><path d="M881.02 550.55V99.9M935.88 550.55V99.9M990.75 550.55V99.9M1045.62 550.55V99.9M1100.48 550.55V99.9M1155.35 550.55V99.9M1210.21 550.55V99.9M1265.08 550.55V99.9M1319.94 550.55V99.9M1374.81 550.55V99.9M1429.67 550.55V99.9" stroke-dashoffset="0.6"/><path d="M854.2 530.33H1445.7M854.2 449.76H1445.7M854.2 369.19H1445.7M854.2 288.63H1445.7M854.2 208.06H1445.7M854.2 127.49H1445.7" stroke-dashoffset="1.9"/></g>
<rect x="1257.2" y="113.2" width="174.4" height="130.9" rx="5.5" fill="none" stroke="#cccccc" stroke-width="1.6"/>
<path d="M1266.7 136.1H1326.3" stroke="#ebf03c" stroke-width="3.8" stroke-linecap="butt"/>
<rect x="1290.7" y="130.3" width="11.6" height="11.6" fill="#ebf03c" stroke="#ebf03c" stroke-width="2.0" stroke-linejoin="round"/>
<text transform="translate(1347.21 145.5) scale(0.94 1)" font-size="29.7">0 V</text>
<path d="M1266.7 176.8H1326.3" stroke="#4a9d8d" stroke-width="3.8" stroke-linecap="butt"/>
<circle cx="1296.5" cy="176.8" r="6.2" fill="#4a9d8d" stroke="#4a9d8d" stroke-width="2.0"/>
<text transform="translate(1346.93 186.2) scale(0.94 1)" font-size="29.7">+16 V</text>
<path d="M1266.7 217.7H1326.3" stroke="#430a5c" stroke-width="3.8" stroke-linecap="butt"/>
<path d="M1296.5 212.2L1302.7 223.2L1290.3 223.2z" fill="#430a5c" stroke="#430a5c" stroke-width="2.0" stroke-linejoin="round"/>
<text transform="translate(1347.07 227.1) scale(0.94 1)" font-size="29.7">-16 V</text>
<clipPath id="clipBL"><rect x="142" y="687.9" width="590.9" height="450.85"/></clipPath>
<g stroke="#a8a8a8" stroke-width="1.75" stroke-dasharray="1.75 2.49" fill="none"><path d="M168.85 1138.75V687.9M223.66 1138.75V687.9M278.46 1138.75V687.9M333.26 1138.75V687.9M388.07 1138.75V687.9M442.88 1138.75V687.9M497.68 1138.75V687.9M552.49 1138.75V687.9M607.29 1138.75V687.9M662.1 1138.75V687.9M716.9 1138.75V687.9" stroke-dashoffset="0.6"/><path d="M142 1118.66H732.9M142 1016.02H732.9M142 913.37H732.9M142 810.73H732.9M142 708.08H732.9" stroke-dashoffset="1.9"/></g>
<g clip-path="url(#clipBL)">
<path d="M169.3 1119.11L180.26 1119.11L191.22 1119.11L202.18 1119.11L213.14 1119.11L224.1 1119.11L235.07 1119.11L246.03 1119.11L256.99 1098.58L267.95 1026.73L278.91 1088.32L289.87 1078.05L300.83 995.94L311.79 924.08L322.75 934.35L333.71 841.97L344.68 852.23L355.64 903.56L366.6 985.67L377.56 995.94L388.52 975.41L399.48 985.67L410.44 1047.26L421.4 1088.32L432.36 1098.58L443.32 1067.79L454.29 1108.85L465.25 1078.05L476.21 1078.05L487.17 1108.85L498.13 1108.85L509.09 1098.58L520.05 1078.05L531.01 1119.11L541.97 1098.58L552.94 1119.11L563.9 1098.58L574.86 1119.11L585.82 1119.11L596.78 1119.11L607.74 1119.11L618.7 1119.11L629.66 1119.11L640.62 1119.11L651.58 1119.11L662.55 1119.11L673.51 1119.11L684.47 1119.11L695.43 1119.11L706.39 1119.11" stroke="#ebf03c" stroke-width="3.8" fill="none" stroke-linejoin="round" stroke-linecap="square"/>
<path d="M163.5 1113.31h11.6v11.6h-11.6zM174.46 1113.31h11.6v11.6h-11.6zM185.42 1113.31h11.6v11.6h-11.6zM196.38 1113.31h11.6v11.6h-11.6zM207.34 1113.31h11.6v11.6h-11.6zM218.3 1113.31h11.6v11.6h-11.6zM229.27 1113.31h11.6v11.6h-11.6zM240.23 1113.31h11.6v11.6h-11.6zM251.19 1092.78h11.6v11.6h-11.6zM262.15 1020.93h11.6v11.6h-11.6zM273.11 1082.52h11.6v11.6h-11.6zM284.07 1072.25h11.6v11.6h-11.6zM295.03 990.14h11.6v11.6h-11.6zM305.99 918.28h11.6v11.6h-11.6zM316.95 928.55h11.6v11.6h-11.6zM327.91 836.17h11.6v11.6h-11.6zM338.88 846.43h11.6v11.6h-11.6zM349.84 897.76h11.6v11.6h-11.6zM360.8 979.87h11.6v11.6h-11.6zM371.76 990.14h11.6v11.6h-11.6zM382.72 969.61h11.6v11.6h-11.6zM393.68 979.87h11.6v11.6h-11.6zM404.64 1041.46h11.6v11.6h-11.6zM415.6 1082.52h11.6v11.6h-11.6zM426.56 1092.78h11.6v11.6h-11.6zM437.52 1061.99h11.6v11.6h-11.6zM448.49 1103.05h11.6v11.6h-11.6zM459.45 1072.25h11.6v11.6h-11.6zM470.41 1072.25h11.6v11.6h-11.6zM481.37 1103.05h11.6v11.6h-11.6zM492.33 1103.05h11.6v11.6h-11.6zM503.29 1092.78h11.6v11.6h-11.6zM514.25 1072.25h11.6v11.6h-11.6zM525.21 1113.31h11.6v11.6h-11.6zM536.17 1092.78h11.6v11.6h-11.6zM547.14 1113.31h11.6v11.6h-11.6zM558.1 1092.78h11.6v11.6h-11.6zM569.06 1113.31h11.6v11.6h-11.6zM580.02 1113.31h11.6v11.6h-11.6zM590.98 1113.31h11.6v11.6h-11.6zM601.94 1113.31h11.6v11.6h-11.6zM612.9 1113.31h11.6v11.6h-11.6zM623.86 1113.31h11.6v11.6h-11.6zM634.82 1113.31h11.6v11.6h-11.6zM645.78 1113.31h11.6v11.6h-11.6zM656.75 1113.31h11.6v11.6h-11.6zM667.71 1113.31h11.6v11.6h-11.6zM678.67 1113.31h11.6v11.6h-11.6zM689.63 1113.31h11.6v11.6h-11.6zM700.59 1113.31h11.6v11.6h-11.6z" fill="#ebf03c" stroke="#ebf03c" stroke-width="2.0" stroke-linejoin="round"/>
<path d="M169.3 1119.11L180.26 1119.11L191.22 1119.11L202.18 1119.11L213.14 1119.11L224.1 1119.11L235.07 1119.11L246.03 1119.11L256.99 1119.11L267.95 1119.11L278.91 1119.11L289.87 1119.11L300.83 1119.11L311.79 1119.11L322.75 1119.11L333.71 1108.85L344.68 1067.79L355.64 1078.05L366.6 1098.58L377.56 1067.79L388.52 1119.11L399.48 1119.11L410.44 1098.58L421.4 1057.52L432.36 1119.11L443.32 985.67L454.29 1088.32L465.25 965.14L476.21 944.61L487.17 924.08L498.13 944.61L509.09 852.23L520.05 852.23L531.01 903.56L541.97 924.08L552.94 944.61L563.9 1036.99L574.86 1088.32L585.82 1098.58L596.78 1119.11L607.74 1119.11L618.7 1119.11L629.66 1119.11L640.62 1119.11L651.58 1119.11L662.55 1119.11L673.51 1119.11L684.47 1119.11L695.43 1119.11L706.39 1119.11" stroke="#4a9d8d" stroke-width="3.8" fill="none" stroke-linejoin="round" stroke-linecap="square"/>
<path d="M163.1 1119.11a6.2 6.2 0 1 0 12.4 0a6.2 6.2 0 1 0 -12.4 0zM174.06 1119.11a6.2 6.2 0 1 0 12.4 0a6.2 6.2 0 1 0 -12.4 0zM185.02 1119.11a6.2 6.2 0 1 0 12.4 0a6.2 6.2 0 1 0 -12.4 0zM195.98 1119.11a6.2 6.2 0 1 0 12.4 0a6.2 6.2 0 1 0 -12.4 0zM206.94 1119.11a6.2 6.2 0 1 0 12.4 0a6.2 6.2 0 1 0 -12.4 0zM217.91 1119.11a6.2 6.2 0 1 0 12.4 0a6.2 6.2 0 1 0 -12.4 0zM228.87 1119.11a6.2 6.2 0 1 0 12.4 0a6.2 6.2 0 1 0 -12.4 0zM239.83 1119.11a6.2 6.2 0 1 0 12.4 0a6.2 6.2 0 1 0 -12.4 0zM250.79 1119.11a6.2 6.2 0 1 0 12.4 0a6.2 6.2 0 1 0 -12.4 0zM261.75 1119.11a6.2 6.2 0 1 0 12.4 0a6.2 6.2 0 1 0 -12.4 0zM272.71 1119.11a6.2 6.2 0 1 0 12.4 0a6.2 6.2 0 1 0 -12.4 0zM283.67 1119.11a6.2 6.2 0 1 0 12.4 0a6.2 6.2 0 1 0 -12.4 0zM294.63 1119.11a6.2 6.2 0 1 0 12.4 0a6.2 6.2 0 1 0 -12.4 0zM305.59 1119.11a6.2 6.2 0 1 0 12.4 0a6.2 6.2 0 1 0 -12.4 0zM316.55 1119.11a6.2 6.2 0 1 0 12.4 0a6.2 6.2 0 1 0 -12.4 0zM327.51 1108.85a6.2 6.2 0 1 0 12.4 0a6.2 6.2 0 1 0 -12.4 0zM338.48 1067.79a6.2 6.2 0 1 0 12.4 0a6.2 6.2 0 1 0 -12.4 0zM349.44 1078.05a6.2 6.2 0 1 0 12.4 0a6.2 6.2 0 1 0 -12.4 0zM360.4 1098.58a6.2 6.2 0 1 0 12.4 0a6.2 6.2 0 1 0 -12.4 0zM371.36 1067.79a6.2 6.2 0 1 0 12.4 0a6.2 6.2 0 1 0 -12.4 0zM382.32 1119.11a6.2 6.2 0 1 0 12.4 0a6.2 6.2 0 1 0 -12.4 0zM393.28 1119.11a6.2 6.2 0 1 0 12.4 0a6.2 6.2 0 1 0 -12.4 0zM404.24 1098.58a6.2 6.2 0 1 0 12.4 0a6.2 6.2 0 1 0 -12.4 0zM415.2 1057.52a6.2 6.2 0 1 0 12.4 0a6.2 6.2 0 1 0 -12.4 0zM426.16 1119.11a6.2 6.2 0 1 0 12.4 0a6.2 6.2 0 1 0 -12.4 0zM437.12 985.67a6.2 6.2 0 1 0 12.4 0a6.2 6.2 0 1 0 -12.4 0zM448.09 1088.32a6.2 6.2 0 1 0 12.4 0a6.2 6.2 0 1 0 -12.4 0zM459.05 965.14a6.2 6.2 0 1 0 12.4 0a6.2 6.2 0 1 0 -12.4 0zM470.01 944.61a6.2 6.2 0 1 0 12.4 0a6.2 6.2 0 1 0 -12.4 0zM480.97 924.08a6.2 6.2 0 1 0 12.4 0a6.2 6.2 0 1 0 -12.4 0zM491.93 944.61a6.2 6.2 0 1 0 12.4 0a6.2 6.2 0 1 0 -12.4 0zM502.89 852.23a6.2 6.2 0 1 0 12.4 0a6.2 6.2 0 1 0 -12.4 0zM513.85 852.23a6.2 6.2 0 1 0 12.4 0a6.2 6.2 0 1 0 -12.4 0zM524.81 903.56a6.2 6.2 0 1 0 12.4 0a6.2 6.2 0 1 0 -12.4 0zM535.77 924.08a6.2 6.2 0 1 0 12.4 0a6.2 6.2 0 1 0 -12.4 0zM546.74 944.61a6.2 6.2 0 1 0 12.4 0a6.2 6.2 0 1 0 -12.4 0zM557.7 1036.99a6.2 6.2 0 1 0 12.4 0a6.2 6.2 0 1 0 -12.4 0zM568.66 1088.32a6.2 6.2 0 1 0 12.4 0a6.2 6.2 0 1 0 -12.4 0zM579.62 1098.58a6.2 6.2 0 1 0 12.4 0a6.2 6.2 0 1 0 -12.4 0zM590.58 1119.11a6.2 6.2 0 1 0 12.4 0a6.2 6.2 0 1 0 -12.4 0zM601.54 1119.11a6.2 6.2 0 1 0 12.4 0a6.2 6.2 0 1 0 -12.4 0zM612.5 1119.11a6.2 6.2 0 1 0 12.4 0a6.2 6.2 0 1 0 -12.4 0zM623.46 1119.11a6.2 6.2 0 1 0 12.4 0a6.2 6.2 0 1 0 -12.4 0zM634.42 1119.11a6.2 6.2 0 1 0 12.4 0a6.2 6.2 0 1 0 -12.4 0zM645.38 1119.11a6.2 6.2 0 1 0 12.4 0a6.2 6.2 0 1 0 -12.4 0zM656.35 1119.11a6.2 6.2 0 1 0 12.4 0a6.2 6.2 0 1 0 -12.4 0zM667.31 1119.11a6.2 6.2 0 1 0 12.4 0a6.2 6.2 0 1 0 -12.4 0zM678.27 1119.11a6.2 6.2 0 1 0 12.4 0a6.2 6.2 0 1 0 -12.4 0zM689.23 1119.11a6.2 6.2 0 1 0 12.4 0a6.2 6.2 0 1 0 -12.4 0zM700.19 1119.11a6.2 6.2 0 1 0 12.4 0a6.2 6.2 0 1 0 -12.4 0z" fill="#4a9d8d" stroke="#4a9d8d" stroke-width="2.0" stroke-linejoin="round"/>
<path d="M169.3 1119.11L180.26 1119.11L191.22 1119.11L202.18 1119.11L213.14 1098.58L224.1 1057.52L235.07 995.94L246.03 954.88L256.99 811.18L267.95 821.44L278.91 708.53L289.87 893.29L300.83 831.7L311.79 975.41L322.75 985.67L333.71 1057.52L344.68 1067.79L355.64 1088.32L366.6 1108.85L377.56 1108.85L388.52 1098.58L399.48 1108.85L410.44 1119.11L421.4 1119.11L432.36 1119.11L443.32 1119.11L454.29 1119.11L465.25 1119.11L476.21 1119.11L487.17 1119.11L498.13 1119.11L509.09 1119.11L520.05 1119.11L531.01 1119.11L541.97 1119.11L552.94 1119.11L563.9 1119.11L574.86 1119.11L585.82 1119.11L596.78 1119.11L607.74 1119.11L618.7 1119.11L629.66 1119.11L640.62 1119.11L651.58 1119.11L662.55 1119.11L673.51 1119.11L684.47 1119.11L695.43 1119.11L706.39 1119.11" stroke="#430a5c" stroke-width="3.8" fill="none" stroke-linejoin="round" stroke-linecap="square"/>
<path d="M169.3 1113.61L175.5 1124.61L163.1 1124.61zM180.26 1113.61L186.46 1124.61L174.06 1124.61zM191.22 1113.61L197.42 1124.61L185.02 1124.61zM202.18 1113.61L208.38 1124.61L195.98 1124.61zM213.14 1093.08L219.34 1104.08L206.94 1104.08zM224.1 1052.02L230.3 1063.02L217.91 1063.02zM235.07 990.44L241.27 1001.44L228.87 1001.44zM246.03 949.38L252.23 960.38L239.83 960.38zM256.99 805.68L263.19 816.68L250.79 816.68zM267.95 815.94L274.15 826.94L261.75 826.94zM278.91 703.03L285.11 714.03L272.71 714.03zM289.87 887.79L296.07 898.79L283.67 898.79zM300.83 826.2L307.03 837.2L294.63 837.2zM311.79 969.91L317.99 980.91L305.59 980.91zM322.75 980.17L328.95 991.17L316.55 991.17zM333.71 1052.02L339.91 1063.02L327.51 1063.02zM344.68 1062.29L350.88 1073.29L338.48 1073.29zM355.64 1082.82L361.84 1093.82L349.44 1093.82zM366.6 1103.35L372.8 1114.35L360.4 1114.35zM377.56 1103.35L383.76 1114.35L371.36 1114.35zM388.52 1093.08L394.72 1104.08L382.32 1104.08zM399.48 1103.35L405.68 1114.35L393.28 1114.35zM410.44 1113.61L416.64 1124.61L404.24 1124.61zM421.4 1113.61L427.6 1124.61L415.2 1124.61zM432.36 1113.61L438.56 1124.61L426.16 1124.61zM443.32 1113.61L449.52 1124.61L437.12 1124.61zM454.29 1113.61L460.49 1124.61L448.09 1124.61zM465.25 1113.61L471.45 1124.61L459.05 1124.61zM476.21 1113.61L482.41 1124.61L470.01 1124.61zM487.17 1113.61L493.37 1124.61L480.97 1124.61zM498.13 1113.61L504.33 1124.61L491.93 1124.61zM509.09 1113.61L515.29 1124.61L502.89 1124.61zM520.05 1113.61L526.25 1124.61L513.85 1124.61zM531.01 1113.61L537.21 1124.61L524.81 1124.61zM541.97 1113.61L548.17 1124.61L535.77 1124.61zM552.94 1113.61L559.14 1124.61L546.74 1124.61zM563.9 1113.61L570.1 1124.61L557.7 1124.61zM574.86 1113.61L581.06 1124.61L568.66 1124.61zM585.82 1113.61L592.02 1124.61L579.62 1124.61zM596.78 1113.61L602.98 1124.61L590.58 1124.61zM607.74 1113.61L613.94 1124.61L601.54 1124.61zM618.7 1113.61L624.9 1124.61L612.5 1124.61zM629.66 1113.61L635.86 1124.61L623.46 1124.61zM640.62 1113.61L646.82 1124.61L634.42 1124.61zM651.58 1113.61L657.78 1124.61L645.38 1124.61zM662.55 1113.61L668.75 1124.61L656.35 1124.61zM673.51 1113.61L679.71 1124.61L667.31 1124.61zM684.47 1113.61L690.67 1124.61L678.27 1124.61zM695.43 1113.61L701.63 1124.61L689.23 1124.61zM706.39 1113.61L712.59 1124.61L700.19 1124.61z" fill="#430a5c" stroke="#430a5c" stroke-width="2.0" stroke-linejoin="round"/>
</g>
<path d="M271.2 687.9V1138.75M416.67 687.9V1138.75M443.98 687.9V1138.75M471.23 687.9V1138.75M616.46 687.9V1138.75" stroke="#666666" stroke-width="2.6" stroke-dasharray="10.4 8.25 2.4 8.25" fill="none" clip-path="url(#clipBL)"/>
<rect x="142" y="687.9" width="590.9" height="450.85" fill="none" stroke="#000" stroke-width="1.65"/>
<path d="M168.85 1138.75v6.5M223.66 1138.75v6.5M278.46 1138.75v6.5M333.26 1138.75v6.5M388.07 1138.75v6.5M442.88 1138.75v6.5M497.68 1138.75v6.5M552.49 1138.75v6.5M607.29 1138.75v6.5M662.1 1138.75v6.5M716.9 1138.75v6.5M142 1118.66h-6.6M142 1016.02h-6.6M142 913.37h-6.6M142 810.73h-6.6M142 708.08h-6.6" stroke="#000" stroke-width="1.6"/>
<text transform="translate(145.76 1173.85) scale(0.925 1)" font-size="29.7">−25</text>
<text transform="translate(200.52 1173.85) scale(0.925 1)" font-size="29.7">−20</text>
<text transform="translate(255.37 1173.85) scale(0.925 1)" font-size="29.7">−15</text>
<text transform="translate(310.13 1173.85) scale(0.925 1)" font-size="29.7">−10</text>
<text transform="translate(372.61 1173.85) scale(0.925 1)" font-size="29.7">−5</text>
<text transform="translate(435.54 1173.85) scale(0.925 1)" font-size="29.7">0</text>
<text transform="translate(490.37 1173.85) scale(0.925 1)" font-size="29.7">5</text>
<text transform="translate(537 1173.85) scale(0.925 1)" font-size="29.7">10</text>
<text transform="translate(591.85 1173.85) scale(0.925 1)" font-size="29.7">15</text>
<text transform="translate(646.97 1173.85) scale(0.925 1)" font-size="29.7">20</text>
<text transform="translate(701.82 1173.85) scale(0.925 1)" font-size="29.7">25</text>
<text transform="translate(112.6 1128.91) scale(0.925 1)" font-size="29.7">0</text>
<text transform="translate(97.32 1026.27) scale(0.925 1)" font-size="29.7">10</text>
<text transform="translate(97.32 923.62) scale(0.925 1)" font-size="29.7">20</text>
<text transform="translate(97.32 820.98) scale(0.925 1)" font-size="29.7">30</text>
<text transform="translate(97.32 718.33) scale(0.925 1)" font-size="29.7">40</text>
<text transform="translate(375.64 1210.25) scale(1.029 1)" font-size="31.45">d (pm/V)</text>
<text transform="translate(82.67 965.59) rotate(-90) scale(0.97 1)" font-size="32.63">Counts</text>
<text transform="translate(246.74 671.9) scale(0.95 1)" font-size="33.4" fill="#333">+P<tspan font-size="21.2" dy="7.7">l</tspan></text>
<text transform="translate(361.61 671.9) scale(0.95 1)" font-size="33.4" fill="#333">-P<tspan font-size="21.2" dy="7.7">g</tspan></text>
<text transform="translate(413.02 671.9) scale(0.95 1)" font-size="33.4" fill="#333">AFE</text>
<text transform="translate(480.15 671.9) scale(0.95 1)" font-size="33.4" fill="#333">+P<tspan font-size="21.2" dy="7.7">g</tspan></text>
<text transform="translate(597.15 671.9) scale(0.95 1)" font-size="33.4" fill="#333">-P<tspan font-size="21.2" dy="7.7">l</tspan></text>
<clipPath id="lclipBL"><rect x="544.4" y="701.2" width="174.4" height="130.9" rx="5.5"/></clipPath>
<rect x="544.4" y="701.2" width="174.4" height="130.9" rx="5.5" fill="#fff"/>
<g stroke="#ececec" stroke-width="1.75" stroke-dasharray="1.75 2.49" fill="none" clip-path="url(#lclipBL)"><path d="M168.85 1138.75V687.9M223.66 1138.75V687.9M278.46 1138.75V687.9M333.26 1138.75V687.9M388.07 1138.75V687.9M442.88 1138.75V687.9M497.68 1138.75V687.9M552.49 1138.75V687.9M607.29 1138.75V687.9M662.1 1138.75V687.9M716.9 1138.75V687.9" stroke-dashoffset="0.6"/><path d="M142 1118.66H732.9M142 1016.02H732.9M142 913.37H732.9M142 810.73H732.9M142 708.08H732.9" stroke-dashoffset="1.9"/></g>
<rect x="544.4" y="701.2" width="174.4" height="130.9" rx="5.5" fill="none" stroke="#cccccc" stroke-width="1.6"/>
<path d="M553.9 724.1H613.5" stroke="#ebf03c" stroke-width="3.8" stroke-linecap="butt"/>
<rect x="577.9" y="718.3" width="11.6" height="11.6" fill="#ebf03c" stroke="#ebf03c" stroke-width="2.0" stroke-linejoin="round"/>
<text transform="translate(634.41 733.5) scale(0.94 1)" font-size="29.7">0 V</text>
<path d="M553.9 764.8H613.5" stroke="#4a9d8d" stroke-width="3.8" stroke-linecap="butt"/>
<circle cx="583.7" cy="764.8" r="6.2" fill="#4a9d8d" stroke="#4a9d8d" stroke-width="2.0"/>
<text transform="translate(634.13 774.2) scale(0.94 1)" font-size="29.7">+16 V</text>
<path d="M553.9 805.7H613.5" stroke="#430a5c" stroke-width="3.8" stroke-linecap="butt"/>
<path d="M583.7 800.2L589.9 811.2L577.5 811.2z" fill="#430a5c" stroke="#430a5c" stroke-width="2.0" stroke-linejoin="round"/>
<text transform="translate(634.27 815.1) scale(0.94 1)" font-size="29.7">-16 V</text>
<clipPath id="clipBR"><rect x="854.2" y="687.9" width="591.5" height="450.85"/></clipPath>
<g stroke="#a8a8a8" stroke-width="1.75" stroke-dasharray="1.75 2.49" fill="none"><path d="M881.02 1138.75V687.9M935.88 1138.75V687.9M990.75 1138.75V687.9M1045.62 1138.75V687.9M1100.48 1138.75V687.9M1155.35 1138.75V687.9M1210.21 1138.75V687.9M1265.08 1138.75V687.9M1319.94 1138.75V687.9M1374.81 1138.75V687.9M1429.67 1138.75V687.9" stroke-dashoffset="0.6"/><path d="M854.2 1118.66H1445.7M854.2 1018.39H1445.7M854.2 918.12H1445.7M854.2 817.85H1445.7M854.2 717.58H1445.7" stroke-dashoffset="1.9"/></g>
<g clip-path="url(#clipBR)">
<path d="M881.47 1119.11L892.44 1119.11L903.42 1119.11L914.39 1119.11L925.36 1119.11L936.34 1119.11L947.31 1109.08L958.28 1109.08L969.25 1109.08L980.23 1109.08L991.2 1089.03L1002.17 1038.89L1013.15 1079L1024.12 1048.92L1035.09 1058.95L1046.07 1038.89L1057.04 1008.81L1068.01 1008.81L1078.98 958.68L1089.96 928.6L1100.93 988.76L1111.9 998.79L1122.88 958.68L1133.85 988.76L1144.82 1099.06L1155.8 818.3L1166.77 1089.03L1177.74 1058.95L1188.71 1048.92L1199.69 1079L1210.66 1089.03L1221.63 1079L1232.61 1089.03L1243.58 1099.06L1254.55 1099.06L1265.53 1119.11L1276.5 1109.08L1287.47 1119.11L1298.44 1119.11L1309.42 1119.11L1320.39 1099.06L1331.36 1119.11L1342.34 1119.11L1353.31 1119.11L1364.28 1119.11L1375.26 1119.11L1386.23 1119.11L1397.2 1119.11L1408.17 1119.11L1419.15 1119.11" stroke="#ebf03c" stroke-width="3.8" fill="none" stroke-linejoin="round" stroke-linecap="square"/>
<path d="M875.67 1113.31h11.6v11.6h-11.6zM886.64 1113.31h11.6v11.6h-11.6zM897.62 1113.31h11.6v11.6h-11.6zM908.59 1113.31h11.6v11.6h-11.6zM919.56 1113.31h11.6v11.6h-11.6zM930.54 1113.31h11.6v11.6h-11.6zM941.51 1103.28h11.6v11.6h-11.6zM952.48 1103.28h11.6v11.6h-11.6zM963.45 1103.28h11.6v11.6h-11.6zM974.43 1103.28h11.6v11.6h-11.6zM985.4 1083.23h11.6v11.6h-11.6zM996.37 1033.09h11.6v11.6h-11.6zM1007.35 1073.2h11.6v11.6h-11.6zM1018.32 1043.12h11.6v11.6h-11.6zM1029.29 1053.15h11.6v11.6h-11.6zM1040.27 1033.09h11.6v11.6h-11.6zM1051.24 1003.01h11.6v11.6h-11.6zM1062.21 1003.01h11.6v11.6h-11.6zM1073.18 952.88h11.6v11.6h-11.6zM1084.16 922.8h11.6v11.6h-11.6zM1095.13 982.96h11.6v11.6h-11.6zM1106.1 992.99h11.6v11.6h-11.6zM1117.08 952.88h11.6v11.6h-11.6zM1128.05 982.96h11.6v11.6h-11.6zM1139.02 1093.26h11.6v11.6h-11.6zM1150 812.5h11.6v11.6h-11.6zM1160.97 1083.23h11.6v11.6h-11.6zM1171.94 1053.15h11.6v11.6h-11.6zM1182.91 1043.12h11.6v11.6h-11.6zM1193.89 1073.2h11.6v11.6h-11.6zM1204.86 1083.23h11.6v11.6h-11.6zM1215.83 1073.2h11.6v11.6h-11.6zM1226.81 1083.23h11.6v11.6h-11.6zM1237.78 1093.26h11.6v11.6h-11.6zM1248.75 1093.26h11.6v11.6h-11.6zM1259.73 1113.31h11.6v11.6h-11.6zM1270.7 1103.28h11.6v11.6h-11.6zM1281.67 1113.31h11.6v11.6h-11.6zM1292.64 1113.31h11.6v11.6h-11.6zM1303.62 1113.31h11.6v11.6h-11.6zM1314.59 1093.26h11.6v11.6h-11.6zM1325.56 1113.31h11.6v11.6h-11.6zM1336.54 1113.31h11.6v11.6h-11.6zM1347.51 1113.31h11.6v11.6h-11.6zM1358.48 1113.31h11.6v11.6h-11.6zM1369.46 1113.31h11.6v11.6h-11.6zM1380.43 1113.31h11.6v11.6h-11.6zM1391.4 1113.31h11.6v11.6h-11.6zM1402.37 1113.31h11.6v11.6h-11.6zM1413.35 1113.31h11.6v11.6h-11.6z" fill="#ebf03c" stroke="#ebf03c" stroke-width="2.0" stroke-linejoin="round"/>
<path d="M881.47 1119.11L892.44 1119.11L903.42 1119.11L914.39 1119.11L925.36 1119.11L936.34 1119.11L947.31 1119.11L958.28 1119.11L969.25 1119.11L980.23 1119.11L991.2 1119.11L1002.17 1119.11L1013.15 1119.11L1024.12 1119.11L1035.09 1119.11L1046.07 1119.11L1057.04 1119.11L1068.01 1119.11L1078.98 1119.11L1089.96 1119.11L1100.93 1119.11L1111.9 1119.11L1122.88 1119.11L1133.85 1119.11L1144.82 1119.11L1155.8 1119.11L1166.77 1119.11L1177.74 1119.11L1188.71 1119.11L1199.69 1109.08L1210.66 1109.08L1221.63 1058.95L1232.61 1079L1243.58 1038.89L1254.55 1028.87L1265.53 978.73L1276.5 868.44L1287.47 708L1298.44 738.08L1309.42 808.27L1320.39 878.46L1331.36 1038.89L1342.34 1048.92L1353.31 1109.08L1364.28 1099.06L1375.26 1119.11L1386.23 1119.11L1397.2 1119.11L1408.17 1119.11L1419.15 1119.11" stroke="#4a9d8d" stroke-width="3.8" fill="none" stroke-linejoin="round" stroke-linecap="square"/>
<path d="M875.27 1119.11a6.2 6.2 0 1 0 12.4 0a6.2 6.2 0 1 0 -12.4 0zM886.24 1119.11a6.2 6.2 0 1 0 12.4 0a6.2 6.2 0 1 0 -12.4 0zM897.22 1119.11a6.2 6.2 0 1 0 12.4 0a6.2 6.2 0 1 0 -12.4 0zM908.19 1119.11a6.2 6.2 0 1 0 12.4 0a6.2 6.2 0 1 0 -12.4 0zM919.16 1119.11a6.2 6.2 0 1 0 12.4 0a6.2 6.2 0 1 0 -12.4 0zM930.13 1119.11a6.2 6.2 0 1 0 12.4 0a6.2 6.2 0 1 0 -12.4 0zM941.11 1119.11a6.2 6.2 0 1 0 12.4 0a6.2 6.2 0 1 0 -12.4 0zM952.08 1119.11a6.2 6.2 0 1 0 12.4 0a6.2 6.2 0 1 0 -12.4 0zM963.05 1119.11a6.2 6.2 0 1 0 12.4 0a6.2 6.2 0 1 0 -12.4 0zM974.03 1119.11a6.2 6.2 0 1 0 12.4 0a6.2 6.2 0 1 0 -12.4 0zM985 1119.11a6.2 6.2 0 1 0 12.4 0a6.2 6.2 0 1 0 -12.4 0zM995.97 1119.11a6.2 6.2 0 1 0 12.4 0a6.2 6.2 0 1 0 -12.4 0zM1006.95 1119.11a6.2 6.2 0 1 0 12.4 0a6.2 6.2 0 1 0 -12.4 0zM1017.92 1119.11a6.2 6.2 0 1 0 12.4 0a6.2 6.2 0 1 0 -12.4 0zM1028.89 1119.11a6.2 6.2 0 1 0 12.4 0a6.2 6.2 0 1 0 -12.4 0zM1039.87 1119.11a6.2 6.2 0 1 0 12.4 0a6.2 6.2 0 1 0 -12.4 0zM1050.84 1119.11a6.2 6.2 0 1 0 12.4 0a6.2 6.2 0 1 0 -12.4 0zM1061.81 1119.11a6.2 6.2 0 1 0 12.4 0a6.2 6.2 0 1 0 -12.4 0zM1072.78 1119.11a6.2 6.2 0 1 0 12.4 0a6.2 6.2 0 1 0 -12.4 0zM1083.76 1119.11a6.2 6.2 0 1 0 12.4 0a6.2 6.2 0 1 0 -12.4 0zM1094.73 1119.11a6.2 6.2 0 1 0 12.4 0a6.2 6.2 0 1 0 -12.4 0zM1105.7 1119.11a6.2 6.2 0 1 0 12.4 0a6.2 6.2 0 1 0 -12.4 0zM1116.68 1119.11a6.2 6.2 0 1 0 12.4 0a6.2 6.2 0 1 0 -12.4 0zM1127.65 1119.11a6.2 6.2 0 1 0 12.4 0a6.2 6.2 0 1 0 -12.4 0zM1138.62 1119.11a6.2 6.2 0 1 0 12.4 0a6.2 6.2 0 1 0 -12.4 0zM1149.6 1119.11a6.2 6.2 0 1 0 12.4 0a6.2 6.2 0 1 0 -12.4 0zM1160.57 1119.11a6.2 6.2 0 1 0 12.4 0a6.2 6.2 0 1 0 -12.4 0zM1171.54 1119.11a6.2 6.2 0 1 0 12.4 0a6.2 6.2 0 1 0 -12.4 0zM1182.51 1119.11a6.2 6.2 0 1 0 12.4 0a6.2 6.2 0 1 0 -12.4 0zM1193.49 1109.08a6.2 6.2 0 1 0 12.4 0a6.2 6.2 0 1 0 -12.4 0zM1204.46 1109.08a6.2 6.2 0 1 0 12.4 0a6.2 6.2 0 1 0 -12.4 0zM1215.43 1058.95a6.2 6.2 0 1 0 12.4 0a6.2 6.2 0 1 0 -12.4 0zM1226.41 1079a6.2 6.2 0 1 0 12.4 0a6.2 6.2 0 1 0 -12.4 0zM1237.38 1038.89a6.2 6.2 0 1 0 12.4 0a6.2 6.2 0 1 0 -12.4 0zM1248.35 1028.87a6.2 6.2 0 1 0 12.4 0a6.2 6.2 0 1 0 -12.4 0zM1259.33 978.73a6.2 6.2 0 1 0 12.4 0a6.2 6.2 0 1 0 -12.4 0zM1270.3 868.44a6.2 6.2 0 1 0 12.4 0a6.2 6.2 0 1 0 -12.4 0zM1281.27 708a6.2 6.2 0 1 0 12.4 0a6.2 6.2 0 1 0 -12.4 0zM1292.24 738.08a6.2 6.2 0 1 0 12.4 0a6.2 6.2 0 1 0 -12.4 0zM1303.22 808.27a6.2 6.2 0 1 0 12.4 0a6.2 6.2 0 1 0 -12.4 0zM1314.19 878.46a6.2 6.2 0 1 0 12.4 0a6.2 6.2 0 1 0 -12.4 0zM1325.16 1038.89a6.2 6.2 0 1 0 12.4 0a6.2 6.2 0 1 0 -12.4 0zM1336.14 1048.92a6.2 6.2 0 1 0 12.4 0a6.2 6.2 0 1 0 -12.4 0zM1347.11 1109.08a6.2 6.2 0 1 0 12.4 0a6.2 6.2 0 1 0 -12.4 0zM1358.08 1099.06a6.2 6.2 0 1 0 12.4 0a6.2 6.2 0 1 0 -12.4 0zM1369.06 1119.11a6.2 6.2 0 1 0 12.4 0a6.2 6.2 0 1 0 -12.4 0zM1380.03 1119.11a6.2 6.2 0 1 0 12.4 0a6.2 6.2 0 1 0 -12.4 0zM1391 1119.11a6.2 6.2 0 1 0 12.4 0a6.2 6.2 0 1 0 -12.4 0zM1401.97 1119.11a6.2 6.2 0 1 0 12.4 0a6.2 6.2 0 1 0 -12.4 0zM1412.95 1119.11a6.2 6.2 0 1 0 12.4 0a6.2 6.2 0 1 0 -12.4 0z" fill="#4a9d8d" stroke="#4a9d8d" stroke-width="2.0" stroke-linejoin="round"/>
<path d="M881.47 1119.11L892.44 1119.11L903.42 1119.11L914.39 1119.11L925.36 1119.11L936.34 1119.11L947.31 1119.11L958.28 1119.11L969.25 1119.11L980.23 1109.08L991.2 1099.06L1002.17 1079L1013.15 1089.03L1024.12 1048.92L1035.09 998.79L1046.07 1028.87L1057.04 978.73L1068.01 928.6L1078.98 908.54L1089.96 938.62L1100.93 888.49L1111.9 868.44L1122.88 898.52L1133.85 938.62L1144.82 1048.92L1155.8 988.76L1166.77 1119.11L1177.74 1109.08L1188.71 1109.08L1199.69 1119.11L1210.66 1119.11L1221.63 1119.11L1232.61 1119.11L1243.58 1119.11L1254.55 1119.11L1265.53 1119.11L1276.5 1119.11L1287.47 1119.11L1298.44 1119.11L1309.42 1119.11L1320.39 1119.11L1331.36 1119.11L1342.34 1119.11L1353.31 1119.11L1364.28 1119.11L1375.26 1119.11L1386.23 1119.11L1397.2 1119.11L1408.17 1119.11L1419.15 1119.11" stroke="#430a5c" stroke-width="3.8" fill="none" stroke-linejoin="round" stroke-linecap="square"/>
<path d="M881.47 1113.61L887.67 1124.61L875.27 1124.61zM892.44 1113.61L898.64 1124.61L886.24 1124.61zM903.42 1113.61L909.62 1124.61L897.22 1124.61zM914.39 1113.61L920.59 1124.61L908.19 1124.61zM925.36 1113.61L931.56 1124.61L919.16 1124.61zM936.34 1113.61L942.54 1124.61L930.13 1124.61zM947.31 1113.61L953.51 1124.61L941.11 1124.61zM958.28 1113.61L964.48 1124.61L952.08 1124.61zM969.25 1113.61L975.45 1124.61L963.05 1124.61zM980.23 1103.58L986.43 1114.58L974.03 1114.58zM991.2 1093.56L997.4 1104.56L985 1104.56zM1002.17 1073.5L1008.37 1084.5L995.97 1084.5zM1013.15 1083.53L1019.35 1094.53L1006.95 1094.53zM1024.12 1043.42L1030.32 1054.42L1017.92 1054.42zM1035.09 993.29L1041.29 1004.29L1028.89 1004.29zM1046.07 1023.37L1052.27 1034.37L1039.87 1034.37zM1057.04 973.23L1063.24 984.23L1050.84 984.23zM1068.01 923.1L1074.21 934.1L1061.81 934.1zM1078.98 903.04L1085.18 914.04L1072.78 914.04zM1089.96 933.12L1096.16 944.12L1083.76 944.12zM1100.93 882.99L1107.13 893.99L1094.73 893.99zM1111.9 862.94L1118.1 873.94L1105.7 873.94zM1122.88 893.02L1129.08 904.02L1116.68 904.02zM1133.85 933.12L1140.05 944.12L1127.65 944.12zM1144.82 1043.42L1151.02 1054.42L1138.62 1054.42zM1155.8 983.26L1162 994.26L1149.6 994.26zM1166.77 1113.61L1172.97 1124.61L1160.57 1124.61zM1177.74 1103.58L1183.94 1114.58L1171.54 1114.58zM1188.71 1103.58L1194.91 1114.58L1182.51 1114.58zM1199.69 1113.61L1205.89 1124.61L1193.49 1124.61zM1210.66 1113.61L1216.86 1124.61L1204.46 1124.61zM1221.63 1113.61L1227.83 1124.61L1215.43 1124.61zM1232.61 1113.61L1238.81 1124.61L1226.41 1124.61zM1243.58 1113.61L1249.78 1124.61L1237.38 1124.61zM1254.55 1113.61L1260.75 1124.61L1248.35 1124.61zM1265.53 1113.61L1271.73 1124.61L1259.33 1124.61zM1276.5 1113.61L1282.7 1124.61L1270.3 1124.61zM1287.47 1113.61L1293.67 1124.61L1281.27 1124.61zM1298.44 1113.61L1304.64 1124.61L1292.24 1124.61zM1309.42 1113.61L1315.62 1124.61L1303.22 1124.61zM1320.39 1113.61L1326.59 1124.61L1314.19 1124.61zM1331.36 1113.61L1337.56 1124.61L1325.16 1124.61zM1342.34 1113.61L1348.54 1124.61L1336.14 1124.61zM1353.31 1113.61L1359.51 1124.61L1347.11 1124.61zM1364.28 1113.61L1370.48 1124.61L1358.08 1124.61zM1375.26 1113.61L1381.46 1124.61L1369.06 1124.61zM1386.23 1113.61L1392.43 1124.61L1380.03 1124.61zM1397.2 1113.61L1403.4 1124.61L1391 1124.61zM1408.17 1113.61L1414.37 1124.61L1401.97 1124.61zM1419.15 1113.61L1425.35 1124.61L1412.95 1124.61z" fill="#430a5c" stroke="#430a5c" stroke-width="2.0" stroke-linejoin="round"/>
</g>
<path d="M982.69 687.9V1138.75M1128.41 687.9V1138.75M1155.58 687.9V1138.75M1182.68 687.9V1138.75M1327.82 687.9V1138.75" stroke="#666666" stroke-width="2.6" stroke-dasharray="10.4 8.25 2.4 8.25" fill="none" clip-path="url(#clipBR)"/>
<rect x="854.2" y="687.9" width="591.5" height="450.85" fill="none" stroke="#000" stroke-width="1.65"/>
<path d="M881.02 1138.75v6.5M935.88 1138.75v6.5M990.75 1138.75v6.5M1045.62 1138.75v6.5M1100.48 1138.75v6.5M1155.35 1138.75v6.5M1210.21 1138.75v6.5M1265.08 1138.75v6.5M1319.94 1138.75v6.5M1374.81 1138.75v6.5M1429.67 1138.75v6.5M854.2 1118.66h-6.6M854.2 1018.39h-6.6M854.2 918.12h-6.6M854.2 817.85h-6.6M854.2 717.58h-6.6" stroke="#000" stroke-width="1.6"/>
<text transform="translate(857.93 1173.85) scale(0.925 1)" font-size="29.7">−25</text>
<text transform="translate(912.75 1173.85) scale(0.925 1)" font-size="29.7">−20</text>
<text transform="translate(967.66 1173.85) scale(0.925 1)" font-size="29.7">−15</text>
<text transform="translate(1022.48 1173.85) scale(0.925 1)" font-size="29.7">−10</text>
<text transform="translate(1085.02 1173.85) scale(0.925 1)" font-size="29.7">−5</text>
<text transform="translate(1148.01 1173.85) scale(0.925 1)" font-size="29.7">0</text>
<text transform="translate(1202.9 1173.85) scale(0.925 1)" font-size="29.7">5</text>
<text transform="translate(1249.59 1173.85) scale(0.925 1)" font-size="29.7">10</text>
<text transform="translate(1304.5 1173.85) scale(0.925 1)" font-size="29.7">15</text>
<text transform="translate(1359.68 1173.85) scale(0.925 1)" font-size="29.7">20</text>
<text transform="translate(1414.59 1173.85) scale(0.925 1)" font-size="29.7">25</text>
<text transform="translate(824.8 1128.91) scale(0.925 1)" font-size="29.7">0</text>
<text transform="translate(809.52 1028.64) scale(0.925 1)" font-size="29.7">10</text>
<text transform="translate(809.52 928.37) scale(0.925 1)" font-size="29.7">20</text>
<text transform="translate(809.52 828.1) scale(0.925 1)" font-size="29.7">30</text>
<text transform="translate(809.52 727.83) scale(0.925 1)" font-size="29.7">40</text>
<text transform="translate(1088.14 1210.25) scale(1.029 1)" font-size="31.45">d (pm/V)</text>
<text transform="translate(794.87 965.59) rotate(-90) scale(0.97 1)" font-size="32.63">Counts</text>
<text transform="translate(962.06 671.9) scale(0.95 1)" font-size="33.4" fill="#333">+P<tspan font-size="21.2" dy="7.7">l</tspan></text>
<text transform="translate(1073.33 671.9) scale(0.95 1)" font-size="33.4" fill="#333">-P<tspan font-size="21.2" dy="7.7">g</tspan></text>
<text transform="translate(1124.59 671.9) scale(0.95 1)" font-size="33.4" fill="#333">AFE</text>
<text transform="translate(1195.77 671.9) scale(0.95 1)" font-size="33.4" fill="#333">+P<tspan font-size="21.2" dy="7.7">g</tspan></text>
<text transform="translate(1311.12 671.9) scale(0.95 1)" font-size="33.4" fill="#333">-P<tspan font-size="21.2" dy="7.7">l</tspan></text>
<clipPath id="lclipBR"><rect x="868.6" y="701.2" width="174.4" height="130.9" rx="5.5"/></clipPath>
<rect x="868.6" y="701.2" width="174.4" height="130.9" rx="5.5" fill="#fff"/>
<g stroke="#ececec" stroke-width="1.75" stroke-dasharray="1.75 2.49" fill="none" clip-path="url(#lclipBR)"><path d="M881.02 1138.75V687.9M935.88 1138.75V687.9M990.75 1138.75V687.9M1045.62 1138.75V687.9M1100.48 1138.75V687.9M1155.35 1138.75V687.9M1210.21 1138.75V687.9M1265.08 1138.75V687.9M1319.94 1138.75V687.9M1374.81 1138.75V687.9M1429.67 1138.75V687.9" stroke-dashoffset="0.6"/><path d="M854.2 1118.66H1445.7M854.2 1018.39H1445.7M854.2 918.12H1445.7M854.2 817.85H1445.7M854.2 717.58H1445.7" stroke-dashoffset="1.9"/></g>
<rect x="868.6" y="701.2" width="174.4" height="130.9" rx="5.5" fill="none" stroke="#cccccc" stroke-width="1.6"/>
<path d="M878.1 724.1H937.7" stroke="#ebf03c" stroke-width="3.8" stroke-linecap="butt"/>
<rect x="902.1" y="718.3" width="11.6" height="11.6" fill="#ebf03c" stroke="#ebf03c" stroke-width="2.0" stroke-linejoin="round"/>
<text transform="translate(958.61 733.5) scale(0.94 1)" font-size="29.7">0 V</text>
<path d="M878.1 764.8H937.7" stroke="#4a9d8d" stroke-width="3.8" stroke-linecap="butt"/>
<circle cx="907.9" cy="764.8" r="6.2" fill="#4a9d8d" stroke="#4a9d8d" stroke-width="2.0"/>
<text transform="translate(958.33 774.2) scale(0.94 1)" font-size="29.7">+16 V</text>
<path d="M878.1 805.7H937.7" stroke="#430a5c" stroke-width="3.8" stroke-linecap="butt"/>
<path d="M907.9 800.2L914.1 811.2L901.7 811.2z" fill="#430a5c" stroke="#430a5c" stroke-width="2.0" stroke-linejoin="round"/>
<text transform="translate(958.47 815.1) scale(0.94 1)" font-size="29.7">-16 V</text>
<text transform="translate(-1.06 33.5) scale(0.993912786262513 1)" font-size="43.94">(a)</text>
<text transform="translate(753.19 33.44) scale(0.9986070931104682 1)" font-size="43.78">(b)</text>
<text transform="translate(413.72 32.8) scale(0.9661222036447437 1)" font-size="44.62" font-weight="bold">Ag</text>
<text transform="translate(1126.55 32.46) scale(0.9615585753647066 1)" font-size="44.28" font-weight="bold">Cu</text>
<text transform="translate(40.07 429.65) rotate(-90) scale(1 1)" font-size="42.59" font-weight="bold">Electrode</text>
<text transform="translate(39.96 966.03) rotate(-90) scale(0.95 1)" font-size="44.49" font-weight="bold">CIPS</text>
</svg>
</body></html>
